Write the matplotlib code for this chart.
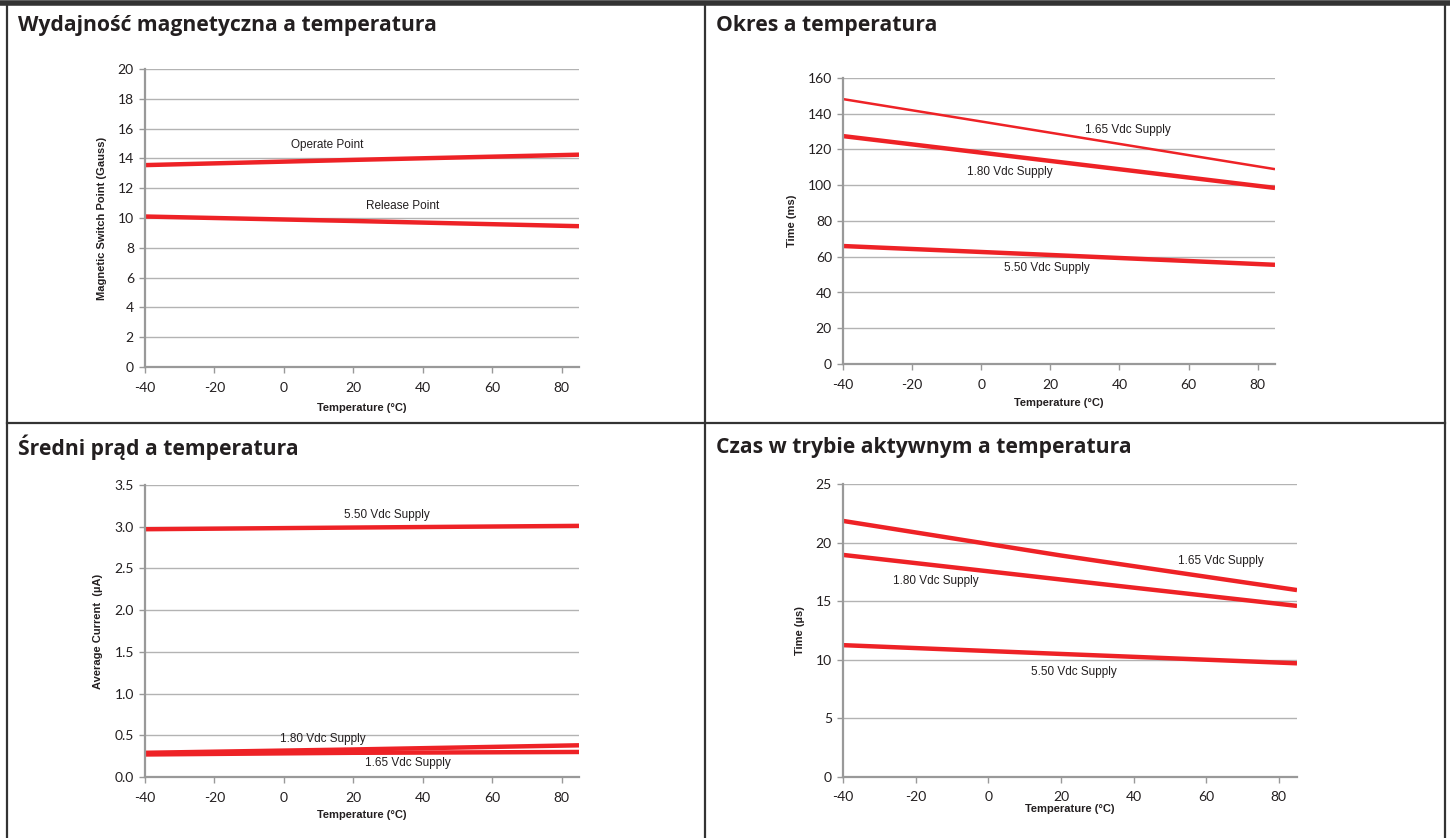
import matplotlib
matplotlib.use('Agg')
import matplotlib.pyplot as plt
from matplotlib.lines import Line2D

W, H = 1450, 838

# temperature points (°C)
temp = [-40, 20, 85]

# Wydajnosc magnetyczna
operate_pt = [13.55, 13.9, 14.25]
release_pt = [10.1, 9.8, 9.45]

# Okres (ms)
okres_165 = [148.2, 129.4, 109.0]
okres_180 = [127.5, 113.6, 98.5]
okres_550 = [66.0, 61.0, 55.5]

# Sredni prad (uA)
prad_550 = [2.97, 2.99, 3.01]
prad_180 = [0.29, 0.33, 0.38]
prad_165 = [0.27, 0.29, 0.30]

# Czas w trybie aktywnym (us)
czas_165 = [21.85, 18.9, 15.95]
czas_180 = [18.95, 16.85, 14.6]
czas_550 = [11.25, 10.5, 9.7]

xticks = [-40, -20, 0, 20, 40, 60, 80]

RED = '#ee2226'
GRID = '#b3b3b3'
TXT = '#231f20'

fig = plt.figure(figsize=(W / 100, H / 100), dpi=100)


def px_axes(l, t, r, b):
    return fig.add_axes([l / W, 1 - b / H, (r - l) / W, (b - t) / H])


def style(ax, ymax, ystep, ylabel, yfmt, xpad=6, tpad=7):
    ax.set_xlim(-40, 85)
    ax.set_ylim(0, ymax)
    ax.set_xticks(xticks)
    n = int(round(ymax / ystep))
    yt = [i * ystep for i in range(n + 1)]
    ax.set_yticks(yt)
    ax.set_yticklabels([yfmt.format(v) for v in yt])
    ax.set_xticklabels([str(v) for v in xticks])
    for s in ['top', 'right']:
        ax.spines[s].set_visible(False)
    ax.spines['left'].set_color('#999999')
    ax.spines['left'].set_linewidth(1.6)
    ax.spines['bottom'].set_color('#999999')
    ax.spines['bottom'].set_linewidth(1.6)
    ax.grid(axis='y', color=GRID, linewidth=1.0)
    ax.set_axisbelow(True)
    ax.tick_params(axis='both', colors='#999999', length=4, width=1,
                   labelcolor=TXT, labelsize=10)
    ax.tick_params(axis='x', pad=tpad)
    ax.tick_params(axis='y', pad=4)
    for lab in ax.get_xticklabels() + ax.get_yticklabels():
        lab.set_family('Lato')
    ax.set_xlabel('Temperature (°C)', family='Liberation Sans', weight='bold',
                  fontsize=8, color=TXT, labelpad=xpad)
    ax.set_ylabel(ylabel, family='Liberation Sans', weight='bold',
                  fontsize=8, color=TXT, labelpad=8)


def note(ax, x, y, s):
    ax.text(x, y, s, family='Liberation Sans', fontsize=8.5, color=TXT,
            ha='center', va='center')


# panel 1
ax1 = px_axes(145, 69, 579, 367)
style(ax1, 20, 2, 'Magnetic Switch Point (Gauss)', '{:.0f}')
ax1.plot(temp, operate_pt, color=RED, lw=3.2, solid_capstyle='butt')
ax1.plot(temp, release_pt, color=RED, lw=3.2, solid_capstyle='butt')
note(ax1, 12.5, 14.9, 'Operate Point')
note(ax1, 34.2, 10.8, 'Release Point')

# panel 2
ax2 = px_axes(843, 78, 1275, 364)
style(ax2, 160, 20, 'Time (ms)', '{:.0f}', xpad=5)
ax2.plot(temp, okres_165, color=RED, lw=1.8, solid_capstyle='butt')
ax2.plot(temp, okres_180, color=RED, lw=3.2, solid_capstyle='butt')
ax2.plot(temp, okres_550, color=RED, lw=3.2, solid_capstyle='butt')
note(ax2, 42.4, 130.9, '1.65 Vdc Supply')
note(ax2, 8.3, 107.4, '1.80 Vdc Supply')
note(ax2, 19.0, 53.7, '5.50 Vdc Supply')

# panel 3
ax3 = px_axes(145, 485, 579, 777)
style(ax3, 3.5, 0.5, 'Average Current  (µA)', '{:.1f}', xpad=4)
ax3.plot(temp, prad_550, color=RED, lw=3.2, solid_capstyle='butt')
ax3.plot(temp, prad_180, color=RED, lw=3.2, solid_capstyle='butt')
ax3.plot(temp, prad_165, color=RED, lw=3.2, solid_capstyle='butt')
note(ax3, 29.8, 3.14, '5.50 Vdc Supply')
note(ax3, 11.1, 0.46, '1.80 Vdc Supply')
note(ax3, 35.6, 0.17, '1.65 Vdc Supply')

# panel 4
ax4 = px_axes(843, 484, 1297, 777)
style(ax4, 25, 5, 'Time (µs)', '{:.0f}', xpad=1, tpad=6)
ax4.plot(temp, czas_165, color=RED, lw=3.2, solid_capstyle='butt')
ax4.plot(temp, czas_180, color=RED, lw=3.2, solid_capstyle='butt')
ax4.plot(temp, czas_550, color=RED, lw=3.2, solid_capstyle='butt')
note(ax4, 64.0, 18.4, '1.65 Vdc Supply')
note(ax4, -14.5, 16.7, '1.80 Vdc Supply')
note(ax4, 23.6, 9.0, '5.50 Vdc Supply')

# titles
titles = [(18, 26, 'Wydajność magnetyczna a temperatura'),
          (716, 26, 'Okres a temperatura'),
          (18, 447, 'Średni prąd a temperatura'),
          (716, 447, 'Czas w trybie aktywnym a temperatura')]
for x, y, s in titles:
    fig.text(x / W, 1 - y / H, s, family='Open Sans', weight='bold',
             fontsize=15.2, color=TXT, ha='left', va='center')

# frame lines
BORDER = '#333333'


def hline(y, x0, x1, lw):
    fig.add_artist(Line2D([x0 / W, x1 / W], [1 - y / H, 1 - y / H],
                          color=BORDER, lw=lw, transform=fig.transFigure))


def vline(x, y0, y1, lw):
    fig.add_artist(Line2D([x / W, x / W], [1 - y0 / H, 1 - y1 / H],
                          color=BORDER, lw=lw, transform=fig.transFigure))


hline(3, 0, W, 4)
hline(423, 7, 1445, 1.6)
vline(7, 4, H, 1.6)
vline(705, 4, H, 1.6)
vline(1445, 4, H, 1.6)

fig.savefig('out.png', dpi=100)
